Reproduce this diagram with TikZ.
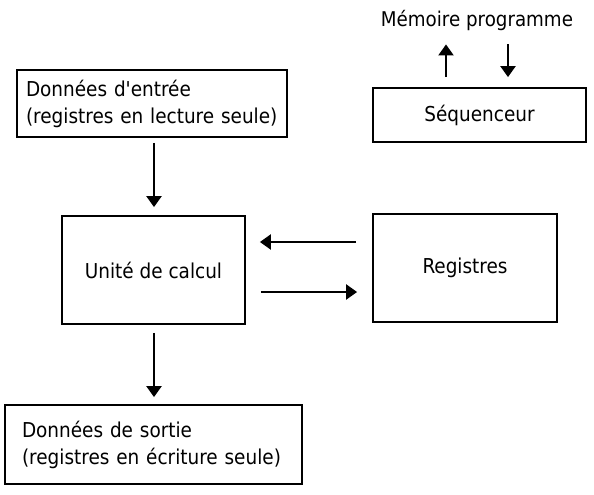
\documentclass[tikz,border=0pt]{standalone}
\usepackage{fontspec}
\setmainfont{DejaVu Sans Condensed}[Ligatures=TeXOff]
\usetikzlibrary{arrows.meta, positioning}

\begin{document}
\begin{tikzpicture}[x=1pt,y=-1pt]
\tikzset{
  bloc/.style={draw=black, line width=1.8pt, inner sep=0pt, font=\fontsize{20.5}{27}\selectfont},
  blocg/.style={bloc, align=left},
  fleche/.style={-{Triangle[width=15pt,length=11pt]}, line width=2.2pt}
}
\useasboundingbox (0,0) rectangle (594,495);
% les blocs
\node [blocg, inner xsep=9pt, minimum width=270pt, minimum height=67pt, text width=252pt] (entree) at (152,103.5)
  {Données d'entrée\\(registres en lecture seule)};
\node [bloc, minimum width=213pt, minimum height=54pt] (seq) at (479.5,115) {Séquenceur};
\node [font=\fontsize{20.3}{24}\selectfont, inner sep=0pt] (mem) at (477,20) {Mémoire programme};
\node [bloc, minimum width=183pt, minimum height=108pt] (calc) at (153.5,270) {Unité de calcul};
\node [bloc, minimum width=184pt, minimum height=108pt] (reg) at (465,268) {Registres};
\node [blocg, inner xsep=17pt, minimum width=297pt, minimum height=79pt, text width=263pt] (sortie) at (153.5,444.5)
  {Données de sortie\\(registres en écriture seule)};
% les fleches
\draw [fleche, shorten <=10pt, shorten >=14pt] ([xshift=-33.5pt]seq.north) -- ([xshift=-33.5pt]seq.north |- mem.south);
\draw [fleche, shorten <=14pt, shorten >=10pt] ([xshift=28.5pt]seq.north |- mem.south) -- ([xshift=28.5pt]seq.north);
\draw [fleche, shorten <=5pt, shorten >=8pt] (entree.south -| 154,0) -- (calc.north -| 154,0);
\draw [fleche, shorten <=8pt, shorten >=7pt] (calc.south -| 154,0) -- (sortie.north -| 154,0);
\draw [fleche, shorten <=16pt, shorten >=14pt] (reg.west |- 0,242) -- (calc.east |- 0,242);
\draw [fleche, shorten <=15pt, shorten >=15pt] (calc.east |- 0,292) -- (reg.west |- 0,292);
\end{tikzpicture}
\end{document}
